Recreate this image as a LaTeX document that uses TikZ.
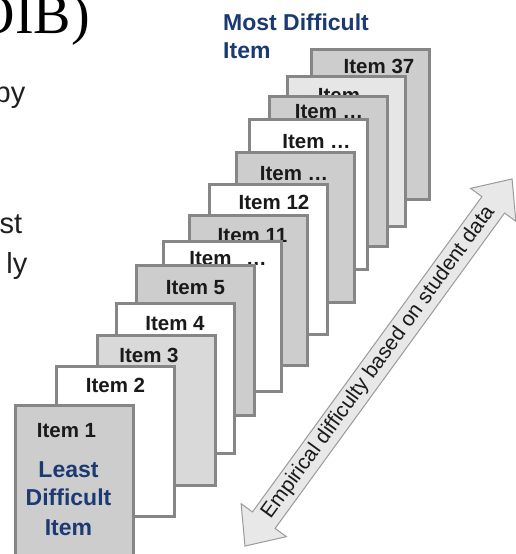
\documentclass[tikz,border=0pt]{standalone}
\usepackage{fontspec}
\setmainfont{Liberation Sans}
\newfontfamily\slideserif{Liberation Serif}
\definecolor{cardgray}{HTML}{CDCDCD}
\definecolor{cardlight}{HTML}{E6E6E6}
\definecolor{cardmid}{HTML}{D9D9D9}
\definecolor{cardedge}{HTML}{868686}
\definecolor{navy}{HTML}{1B3A72}
\definecolor{labeltext}{HTML}{1A1A1A}
\definecolor{arrowfill}{HTML}{E8E8E8}
\definecolor{arrowedge}{HTML}{9A9A9A}
\begin{document}
\begin{tikzpicture}[x=1pt,y=-1pt,
  card/.style={rectangle, draw=cardedge, line width=3pt, minimum width=118pt, minimum height=150pt, inner sep=0pt},
  itemlabel/.style={font=\fontsize{20.5}{24}\selectfont\bfseries, text=labeltext, anchor=base, inner sep=0pt},
  bluelabel/.style={font=\fontsize{23}{28}\selectfont\bfseries, text=navy, inner sep=0pt},
  slidetext/.style={font=\fontsize{29}{34}\selectfont, text=black!88, anchor=base east, inner sep=0pt}]
\useasboundingbox (0,0) rectangle (516,554);
\clip (0,0) rectangle (516,554);

% slide text fragments
\node[font=\fontsize{56}{60}\slideserif, anchor=base east, inner sep=0pt] (title) at (90,33) {(OIB)};
\node[slidetext] (t1) at (25.5,102) {by};
\node[slidetext] (t2) at (22.5,233) {st};
\node[slidetext] (t3) at (27.5,273) {ly};

% most difficult label
\node[bluelabel, anchor=base west, align=left] (most) at (223,30) {Most Difficult};
\node[bluelabel, anchor=base west] (mostb) at (223,58) {Item};

% cards, back to front
\node[card, fill=cardgray] (c37) at (370,124) {};
\node[itemlabel] (l37) at (379,73) {Item 37};
\node[card, fill=cardlight] (c36) at (346.5,151.5) {};
\node[itemlabel] (l36) at (352,102) {Item …};
\node[card, fill=cardgray] (c35) at (328.5,171) {};
\node[itemlabel] (l35) at (329,118) {Item …};
\node[card, fill=white] (c34) at (308.5,194) {};
\node[itemlabel] (l34) at (316.5,148) {Item …};
\node[card, fill=cardgray] (c33) at (295,227) {};
\node[itemlabel] (l33) at (294,180) {Item …};
\node[card, fill=white] (c12) at (268,259.5) {};
\node[itemlabel] (l12) at (274,209) {Item 12};
\node[card, fill=cardgray] (c11) at (248.5,290) {};
\node[itemlabel] (l11) at (252.5,242) {Item 11};
\node[card, fill=white] (c10) at (222,316.5) {};
\node[itemlabel] (l10) at (228,265) {Item\hspace{9pt} …};
\node[card, fill=cardgray] (c5) at (195.5,340) {};
\node[itemlabel] (l5) at (195.5,294) {Item 5};
\node[card, fill=white] (c4) at (175.5,378.5) {};
\node[itemlabel] (l4) at (175,330) {Item 4};
\node[card, fill=cardmid] (c3) at (156.5,410) {};
\node[itemlabel] (l3) at (149,362) {Item 3};
\node[card, fill=white] (c2) at (115,441.5) {};
\node[itemlabel] (l2) at (115.5,392) {Item 2};
\node[card, fill=cardgray] (c1) at (74.5,480.5) {};
\node[itemlabel] (l1) at (66.5,437) {Item 1};
\node[bluelabel, anchor=base] (least1) at (68.5,477) {Least};
\node[bluelabel, anchor=base] (least2) at (68.5,505) {Difficult};
\node[bluelabel, anchor=base] (least3) at (68.5,535) {Item};

% double arrow
\begin{scope}[shift={(378.5,362.5)}, rotate=53.96]
  \draw[fill=arrowfill, draw=arrowedge, line width=1pt, line join=miter]
    (-227,0) -- (-195,-28) -- (-195,-14) -- (195,-14) -- (195,-28) -- (227,0)
    -- (195,28) -- (195,14) -- (-195,14) -- (-195,28) -- cycle;
  \node[rotate=53.96, font=\fontsize{21}{24}\selectfont, text=labeltext, inner sep=0pt] (arrowtext) at (0,0) {Empirical difficulty based on student data};
\end{scope}
\end{tikzpicture}
\end{document}
